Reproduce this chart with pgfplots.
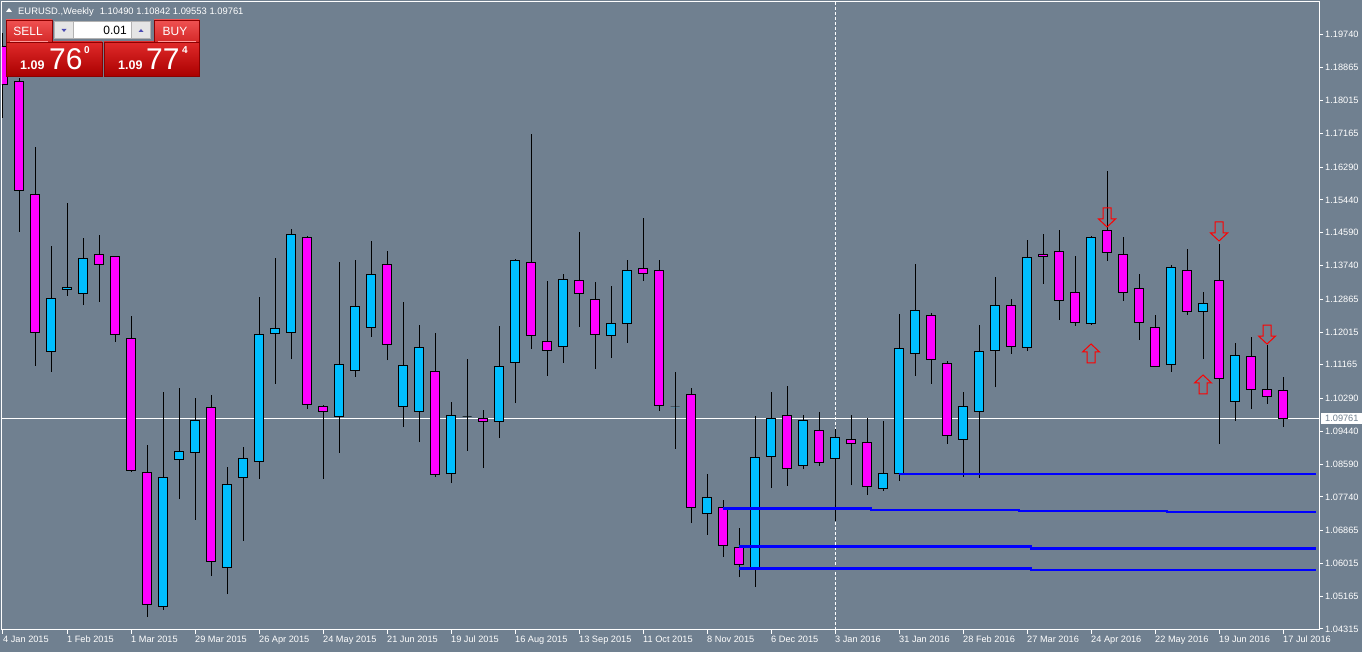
\documentclass[border=0pt]{standalone}
\usepackage{pgfplots}
\pgfplotsset{compat=1.18}
\usepackage{pgfplotstable}
\usepackage{fontspec}
\setmainfont{Liberation Sans}

\definecolor{chartbg}{RGB}{112,128,144}
\definecolor{bull}{RGB}{0,191,255}
\definecolor{bear}{RGB}{255,0,255}
\definecolor{tabhi}{RGB}{240,82,82}
\definecolor{tablo}{RGB}{212,40,40}
\definecolor{boxhi}{RGB}{224,42,42}
\definecolor{boxlo}{RGB}{170,0,0}
\definecolor{edge}{RGB}{140,0,0}

\pgfdeclareplotmark{nothing}{}
\pgfdeclareplotmark{dnarrow}{%
  \pgfpathmoveto{\pgfqpoint{-4pt}{9.5pt}}%
  \pgfpathlineto{\pgfqpoint{4pt}{9.5pt}}%
  \pgfpathlineto{\pgfqpoint{4pt}{-1.5pt}}%
  \pgfpathlineto{\pgfqpoint{8.5pt}{-1.5pt}}%
  \pgfpathlineto{\pgfqpoint{0pt}{-9.5pt}}%
  \pgfpathlineto{\pgfqpoint{-8.5pt}{-1.5pt}}%
  \pgfpathlineto{\pgfqpoint{-4pt}{-1.5pt}}%
  \pgfpathclose
  \pgfusepathqstroke}
\pgfdeclareplotmark{uparrow}{%
  \pgfpathmoveto{\pgfqpoint{-4pt}{-9.5pt}}%
  \pgfpathlineto{\pgfqpoint{4pt}{-9.5pt}}%
  \pgfpathlineto{\pgfqpoint{4pt}{1.5pt}}%
  \pgfpathlineto{\pgfqpoint{8.5pt}{1.5pt}}%
  \pgfpathlineto{\pgfqpoint{0pt}{9.5pt}}%
  \pgfpathlineto{\pgfqpoint{-8.5pt}{1.5pt}}%
  \pgfpathlineto{\pgfqpoint{-4pt}{1.5pt}}%
  \pgfpathclose
  \pgfusepathqstroke}

% weekly EURUSD: week index, open, high, low, close
\pgfplotstableread{
i  O       H       L       C
0  1.19405 1.19768 1.17564 1.18419
1  1.18497 1.18601 1.14608 1.15671
2  1.15567 1.16812 1.11134 1.12015
3  1.11497 1.14245 1.10978 1.12871
4  1.13104 1.15360 1.12949 1.13156
5  1.13001 1.14452 1.12715 1.13908
6  1.14012 1.14530 1.12793 1.13778
7  1.13960 1.13986 1.11756 1.11963
8  1.11834 1.12430 1.08385 1.08437
9  1.08360 1.09086 1.04626 1.04963
10 1.04911 1.10460 1.04808 1.08230
11 1.08697 1.10563 1.07685 1.08904
12 1.08878 1.10304 1.07141 1.09708
13 1.10045 1.10382 1.05689 1.06052
14 1.05897 1.08515 1.05222 1.08074
15 1.08230 1.09034 1.06597 1.08748
16 1.08645 1.12923 1.08204 1.11963
17 1.11989 1.13934 1.10667 1.12093
18 1.12015 1.14686 1.11315 1.14530
19 1.14478 1.14504 1.10019 1.10123
20 1.10071 1.10123 1.08204 1.09941
21 1.09837 1.13830 1.08878 1.11160
22 1.11004 1.13882 1.10849 1.12689
23 1.12119 1.14375 1.11886 1.13493
24 1.13778 1.14115 1.11289 1.11678
25 1.10071 1.12793 1.09552 1.11134
26 1.09941 1.12197 1.09163 1.11626
27 1.10978 1.11989 1.08256 1.08308
28 1.08334 1.10200 1.08100 1.09863
29 1.09837 1.11315 1.08930 1.09837
30 1.09760 1.09993 1.08489 1.09682
31 1.09682 1.12171 1.09267 1.11108
32 1.11212 1.13908 1.10174 1.13856
33 1.13804 1.17149 1.11575 1.11912
34 1.11756 1.13338 1.10875 1.11523
35 1.11652 1.13519 1.11212 1.13364
36 1.13338 1.14608 1.12145 1.13001
37 1.12845 1.13312 1.11056 1.11963
38 1.11912 1.13208 1.11341 1.12223
39 1.12223 1.13882 1.11730 1.13597
40 1.13649 1.14971 1.13338 1.13519
41 1.13597 1.13882 1.09967 1.10097
42 1.10071 1.10978 1.08982 1.10071
43 1.10382 1.10563 1.07063 1.07452
44 1.07297 1.08334 1.06752 1.07737
45 1.07452 1.07660 1.06182 1.06467
46 1.06415 1.06934 1.05663 1.06000
47 1.05922 1.09837 1.05404 1.08774
48 1.08800 1.10460 1.07971 1.09760
49 1.09863 1.10615 1.08023 1.08489
50 1.08541 1.09863 1.08463 1.09708
51 1.09474 1.09941 1.08541 1.08619
52 1.08748 1.09500 1.07115 1.09267
53 1.09215 1.09863 1.08048 1.09112
54 1.09163 1.09786 1.07789 1.07997
55 1.07945 1.09708 1.07893 1.08334
56 1.08334 1.12482 1.08152 1.11575
57 1.11445 1.13778 1.10875 1.12560
58 1.12430 1.12508 1.10667 1.11315
59 1.11186 1.11263 1.09112 1.09319
60 1.09215 1.10460 1.08256 1.10071
61 1.09941 1.12197 1.08230 1.11497
62 1.11523 1.13441 1.10589 1.12715
63 1.12715 1.12871 1.11445 1.11652
64 1.11626 1.14401 1.11523 1.13934
65 1.14012 1.14556 1.13260 1.13960
66 1.14115 1.14660 1.12327 1.12819
67 1.13027 1.13986 1.12171 1.12249
68 1.12223 1.14504 1.12197 1.14478
69 1.14634 1.16190 1.13856 1.14064
70 1.14012 1.14478 1.12819 1.13052
71 1.13130 1.13519 1.11808 1.12249
72 1.12119 1.12456 1.11108 1.11108
73 1.11160 1.13752 1.10978 1.13675
74 1.13597 1.14167 1.12456 1.12534
75 1.12534 1.13052 1.11315 1.12741
76 1.13338 1.14297 1.09112 1.10797
77 1.10226 1.11730 1.09708 1.11393
78 1.11367 1.11886 1.10019 1.10512
79 1.10512 1.11678 1.10149 1.10330
80 1.10490 1.10842 1.09553 1.09761
}\candles

\begin{document}
\begin{tikzpicture}
\useasboundingbox (0,0) rectangle (1362pt,652pt);
\fill[chartbg] (0,0) rectangle (1362pt,652pt);
\begin{axis}[
  at={(2pt,22pt)}, anchor=south west,
  width=1317pt, height=628pt, scale only axis,
  xmin=-0.0625, xmax=82.25,
  ymin=1.04289, ymax=1.20571,
  axis line style={white, line width=1pt},
  tick style={white, line width=1pt},
  tick align=outside, major tick length=4pt,
  xtick pos=left, ytick pos=right, yticklabel pos=right,
  scaled y ticks=false,
  xtick={0,4,...,80},
  xticklabels={4 Jan 2015, 1 Feb 2015, 1 Mar 2015, 29 Mar 2015, 26 Apr 2015,
    24 May 2015, 21 Jun 2015, 19 Jul 2015, 16 Aug 2015, 13 Sep 2015,
    11 Oct 2015, 8 Nov 2015, 6 Dec 2015, 3 Jan 2016, 31 Jan 2016,
    28 Feb 2016, 27 Mar 2016, 24 Apr 2016, 22 May 2016, 19 Jun 2016, 17 Jul 2016},
  ytick={1.04315,1.05165,1.06015,1.06865,1.07740,1.08590,1.09440,1.10290,1.11165,
    1.12015,1.12865,1.13740,1.14590,1.15440,1.16290,1.17165,1.18015,1.18865,1.19740},
  yticklabels={1.04315,1.05165,1.06015,1.06865,1.07740,1.08590,1.09440,1.10290,1.11165,
    1.12015,1.12865,1.13740,1.14590,1.15440,1.16290,1.17165,1.18015,1.18865,1.19740},
  ticklabel style={font=\fontsize{9.2}{10}\selectfont, text=white, inner sep=0pt},
  xticklabel style={anchor=north west, yshift=-2pt},
  yticklabel style={anchor=west, xshift=2pt},
  clip marker paths=true,
]
% bid line and year separator
\addplot[white, line width=1pt] coordinates {(-0.0625,1.09761) (82.25,1.09761)};
\addplot[white, line width=1pt, dash pattern=on 3pt off 2pt] coordinates {(52,1.04289) (52,1.20571)};

% candles: drawn around the close, offsets to open/high/low
\addplot[scatter, only marks, mark=nothing,
  visualization depends on={\thisrow{O}-\thisrow{C}\as\dO},
  visualization depends on={\thisrow{H}-\thisrow{C}\as\dH},
  visualization depends on={\thisrow{L}-\thisrow{C}\as\dL},
  scatter/@pre marker code/.code={%
    \pgfmathparse{\dO>0 ? 1 : 0}%
    \ifdim\pgfmathresult pt>0.5pt\def\cfill{bear}\else\def\cfill{bull}\fi
    \draw[black, line width=1pt] (axis direction cs:0,\dL) -- (axis direction cs:0,\dH);
    \filldraw[fill=\cfill, draw=black, line width=1pt]
      ([xshift=-4.5pt]axis direction cs:0,\dO) rectangle ([xshift=4.5pt]axis direction cs:0,0);
  },
  scatter/@post marker code/.code={},
] table[x=i, y=C] {\candles};

% support levels
\addplot[blue, line width=2.5pt] coordinates {(56,1.08334) (82.06,1.08334)};
\addplot[blue, line width=2.5pt, const plot] coordinates {(45,1.07444) (54.25,1.07400) (63.5,1.07374) (72.75,1.07348) (82.06,1.07348)};
\addplot[blue, line width=2.5pt, const plot] coordinates {(46,1.06449) (64.25,1.06407) (82.06,1.06407)};
\addplot[blue, line width=2.5pt, const plot] coordinates {(46,1.05878) (64.25,1.05845) (82.06,1.05845)};

% signal arrows
\addplot[only marks, red, mark=dnarrow, mark options={line width=1pt}] coordinates {(69,1.14984) (76,1.14621) (79,1.11950)};
\addplot[only marks, red, mark=uparrow, mark options={line width=1pt}] coordinates {(68,1.11458) (75,1.10654)};
\end{axis}

% bid label on the price scale
\fill[white] (1321pt,228pt) rectangle (1362pt,239pt);
\node[anchor=west, inner sep=0pt, text=chartbg, font=\fontsize{9.2}{10}\selectfont] at (1325pt,233.5pt) {1.09761};

% header
\fill[white] (6pt,640pt) -- (12pt,640pt) -- (9pt,644pt) -- cycle;
\node[anchor=base west, inner sep=0pt, text=white, font=\fontsize{9.4}{10}\selectfont]
  at (18pt,637.5pt) {EURUSD.,Weekly\hspace{6pt}1.10490 1.10842 1.09553 1.09761};

% one-click trading panel
\shadedraw[top color=boxhi, bottom color=boxlo, draw=edge] (6pt,576pt) rectangle (102pt,610pt);
\shadedraw[top color=tabhi, bottom color=tablo, draw=edge] (6pt,610pt) rectangle (52pt,632pt);
\shadedraw[top color=boxhi, bottom color=boxlo, draw=edge] (104pt,576pt) rectangle (199pt,610pt);
\shadedraw[top color=tabhi, bottom color=tablo, draw=edge] (154pt,610pt) rectangle (199pt,632pt);
\draw[red!40!white] (10pt,610.5pt) -- (48pt,610.5pt);
\draw[red!40!white] (158pt,610.5pt) -- (196pt,610.5pt);
\node[text=white, font=\fontsize{12}{13}\selectfont] at (28pt,621pt) {SELL};
\node[text=white, font=\fontsize{12}{13}\selectfont] at (175pt,621pt) {BUY};
\fill[gray!60] (54pt,613pt) rectangle (151pt,631pt);
\fill[gray!20] (55pt,614pt) rectangle (73pt,630pt);
\fill[gray!20] (132pt,614pt) rectangle (150pt,630pt);
\fill[white] (74pt,614pt) rectangle (131pt,630pt);
\fill[blue!40!gray] (61.5pt,623pt) -- (66.5pt,623pt) -- (64pt,620pt) -- cycle;
\fill[blue!40!gray] (138.5pt,620pt) -- (143.5pt,620pt) -- (141pt,623pt) -- cycle;
\node[anchor=base east, inner sep=0pt, font=\fontsize{12}{13}\selectfont] at (127pt,617.5pt) {0.01};
\node[anchor=base west, inner sep=0pt, text=white, font=\bfseries\fontsize{12.5}{13}\selectfont] at (20pt,582pt) {1.09};
\node[anchor=base west, inner sep=0pt, text=white, font=\fontsize{30}{30}\selectfont] at (49pt,582pt) {76};
\node[anchor=base west, inner sep=0pt, text=white, font=\bfseries\fontsize{10}{10}\selectfont] at (84pt,598pt) {0};
\node[anchor=base west, inner sep=0pt, text=white, font=\bfseries\fontsize{12.5}{13}\selectfont] at (118pt,582pt) {1.09};
\node[anchor=base west, inner sep=0pt, text=white, font=\fontsize{30}{30}\selectfont] at (146pt,582pt) {77};
\node[anchor=base west, inner sep=0pt, text=white, font=\bfseries\fontsize{10}{10}\selectfont] at (182pt,598pt) {4};
\end{tikzpicture}
\end{document}
